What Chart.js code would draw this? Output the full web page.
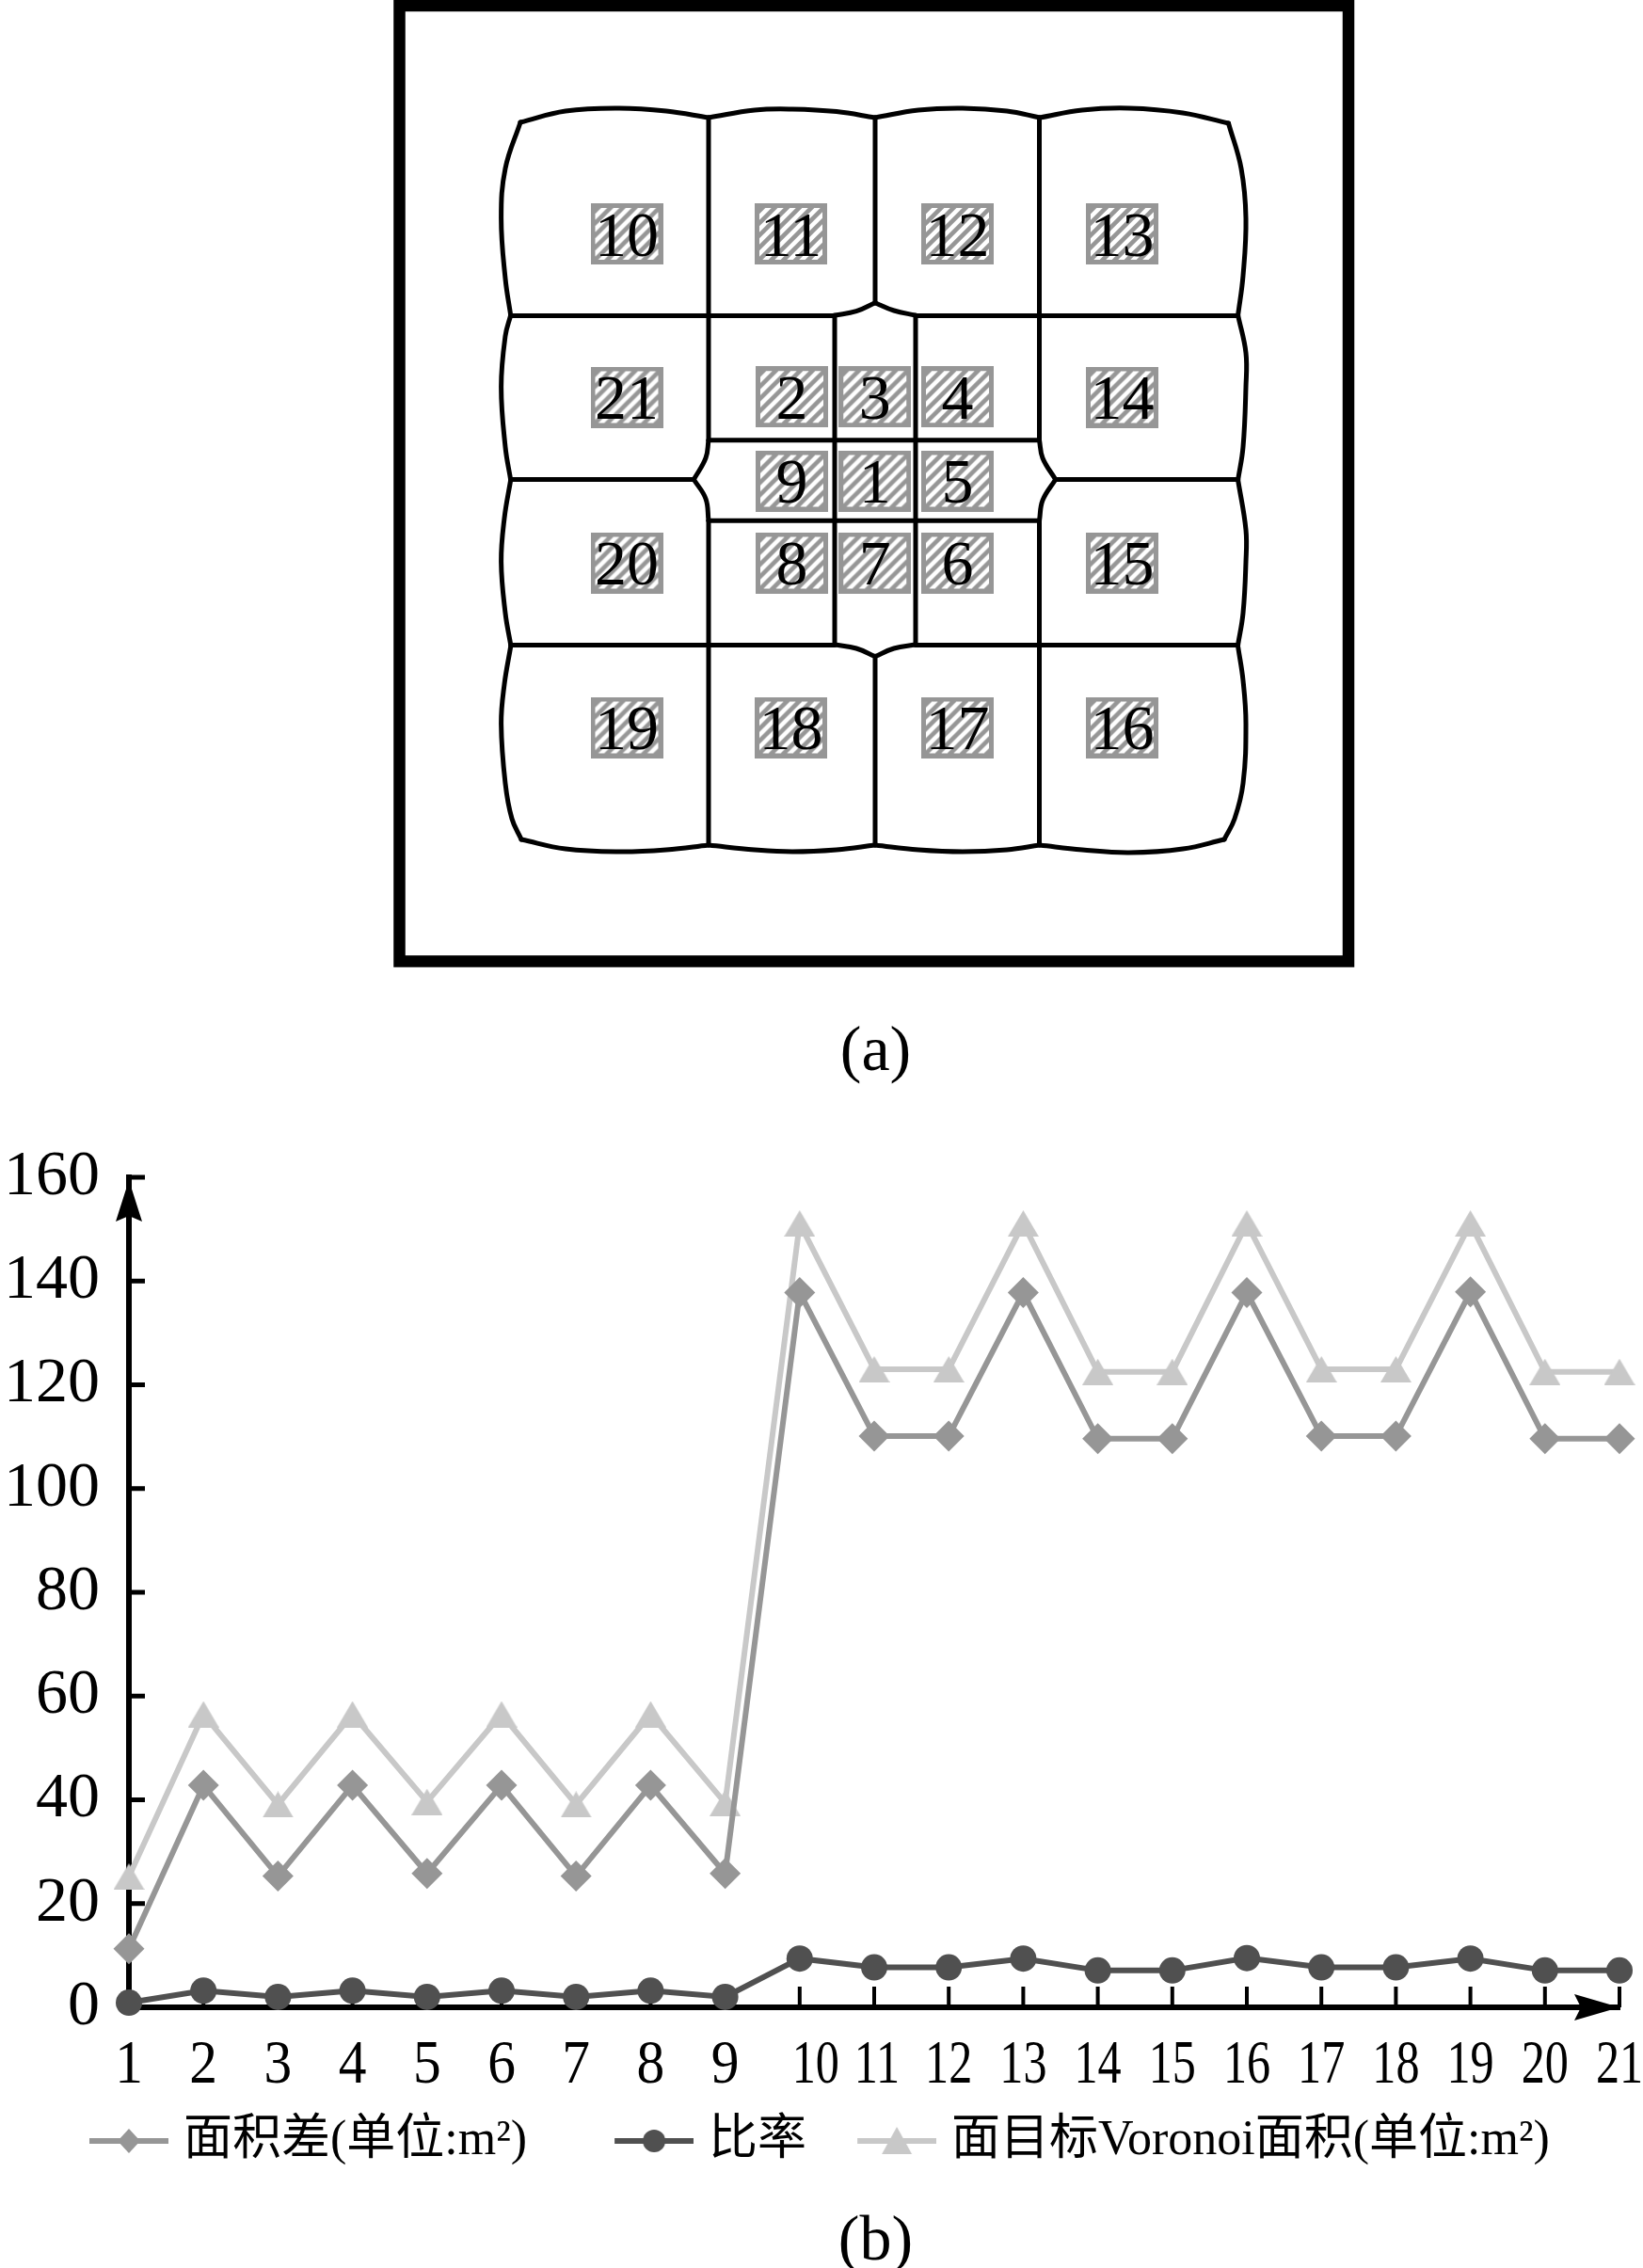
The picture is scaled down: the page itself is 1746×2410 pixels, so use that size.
<!DOCTYPE html>
<html>
<head>
<meta charset="utf-8">
<script src="https://cdn.jsdelivr.net/npm/chart.js@4"></script>
<style>
  html, body { margin: 0; background: #fff; }
  body { position: relative; width: 1746px; height: 2410px; overflow: hidden; }
  canvas { position: absolute; left: 0; }
  #layoutChart { top: 0; }
  #areaChart { top: 1200px; }
  .caption {
    position: absolute; left: 0; width: 1861px; text-align: center;
    font: 68px "Liberation Serif", serif; line-height: 80px; color: #000;
  }
</style>
</head>
<body>
<canvas id="layoutChart" width="1746" height="1060"></canvas>
<div class="caption" style="top:1074px">(a)</div>
<canvas id="areaChart" width="1746" height="1140"></canvas>
<div class="caption" style="top:2338px">(b)</div>
<script>
// Panel (b) values
const categories = ['1','2','3','4','5','6','7','8','9','10','11','12','13','14','15','16','17','18','19','20','21'];
const yTicks = [0, 20, 40, 60, 80, 100, 120, 140, 160];
const areaDiff = [11.3,42.8,25.3,42.8,25.8,42.8,25.3,42.8,25.8,137.8,110.1,110.1,137.8,109.6,109.6,137.8,110.1,110.1,137.9,109.6,109.6];
const ratio = [0.9,3.2,2,3.2,2,3.2,2,3.2,2,9.4,7.7,7.7,9.4,7.1,7.1,9.5,7.7,7.7,9.4,7.1,7.1];
const voronoiArea = [25.2,56.5,39.1,56.5,39.6,56.5,39.1,56.5,39.4,151.1,123,123,151.1,122.5,122.5,151.1,123,123,151.1,122.5,122.5];
const seriesNames = ['面积差(单位:m²)\u00a0\u00a0\u00a0', '比率', '面目标Voronoi面积(单位:m²)'];

// Panel (a) values, in the map's own coordinates
const cellIds = ['10','11','12','13','21','2','3','4','14','9','1','5','20','8','7','6','15','19','18','17','16'];
const cellX = [666,840.5,1017.5,1192.5,666,841.5,929.7,1017.5,1192.5,841.5,929.7,1017.5,666,841.5,929.7,1017.5,1192.5,666,840.5,1017.5,1192.5];
const cellY = [248.5,248.5,248.5,248.5,422,421.7,421.7,421.7,422,511,511,511,598,598,598,598,598,773,773,773,773];
const frame = [[424.5,6],[1433,6],[1433,1021.5],[424.5,1021.5],[424.5,6]];
const straightEdges = [
  [[753,125],[753,467.7]], [[753,553.3],[753,897.7]],
  [[1104.5,125],[1104.5,467.7]], [[1104.5,553.3],[1104.5,897.7]],
  [[930,125],[930,322]], [[930,697.5],[930,897.7]],
  [[887,335.5],[887,685]], [[973,335.5],[973,685]],
  [[542.7,335.5],[887,335.5]], [[973,335.5],[1315.6,335.5]],
  [[753,467.7],[1104.5,467.7]], [[753,553.3],[1104.5,553.3]],
  [[542.7,509.5],[737.3,509.5]], [[1121.7,509.5],[1315.6,509.5]],
  [[542.7,685.5],[887,685.5]], [[973,685.5],[1315.6,685.5]]
];
const curvedEdges = [
  // top
  [[553,130],[601,118],[658,115],[708,118],[753,125]],
  [[753,125],[802,117],[842,116],[889,118.6],[930,125]],
  [[930,125],[976,117],[1023,115],[1070,118],[1105,125]],
  [[1105,125],[1150,117],[1200,115],[1257,120],[1305.5,131]],
  // bottom
  [[554,892],[601,902],[658,905],[708,903],[753,898]],
  [[753,898],[802,903],[842,905],[889,903],[930,898]],
  [[930,898],[976,903],[1023,905],[1070,903],[1105,898]],
  [[1105,898],[1150,903],[1200,906],[1257,902],[1301,892]],
  // left
  [[553,130],[537,179],[532.6,232],[537,296],[542.7,335]],
  [[542.7,335],[537,357],[532.6,411],[537,475],[542.7,510]],
  [[542.7,510],[536,550.5],[532.6,597],[537,651.5],[542.7,685]],
  [[542.7,687],[536,727],[532.6,769],[537,832.5],[544,870],[554,892]],
  // right
  [[1305.5,131],[1319,179],[1324,232],[1321,293],[1315.6,335]],
  [[1315.6,335],[1324,375],[1324,411],[1321,475],[1315.6,510]],
  [[1315.6,510],[1324,563],[1324,597],[1321,651.5],[1315.6,685]],
  [[1315.6,687],[1321,723],[1324,769],[1321,832.5],[1312,870],[1301,892]],
  // centre notches
  [[887,335],[910,330.7],[930,321.7]], [[930,321.7],[950,330],[973,335]],
  [[887,685],[910,689],[930,697.5]], [[930,697.5],[950,689],[973,685]],
  [[753,467.7],[750,486.7],[737.3,509.5]], [[737.3,509.5],[750,530],[753,553.3]],
  [[1104.5,467.7],[1108,486.7],[1121.7,509.5]], [[1121.7,509.5],[1108,531.7],[1104.5,553.3]]
];

const SERIF = '"Liberation Serif", "Noto Sans CJK SC", serif';
const toPoints = list => list.map(p => ({ x: p[0], y: p[1] }));

function edgeDataset(list, tension, width) {
  return {
    type: 'scatter', data: toPoints(list), showLine: true, tension: tension,
    borderColor: '#000', borderWidth: width, pointRadius: 0, clip: false,
    borderCapStyle: 'round', borderJoinStyle: 'round'
  };
}

// hatched label tile used as the point style of the cell markers
function makeTile() {
  const c = document.createElement('canvas');
  c.width = 77; c.height = 65;
  const g = c.getContext('2d');
  g.fillStyle = '#fff';
  g.fillRect(0, 0, 77, 65);
  g.strokeStyle = '#969696';
  g.lineWidth = 4.6;
  for (let i = -65; i < 77; i += 13) {
    g.beginPath(); g.moveTo(i, 65); g.lineTo(i + 65, 0); g.stroke();
  }
  g.lineWidth = 5;
  g.strokeRect(2.5, 2.5, 72, 60);
  return c;
}

const cellLabels = {
  id: 'cellLabels',
  afterDatasetsDraw(chart) {
    const { ctx, scales } = chart;
    ctx.save();
    ctx.fillStyle = '#000';
    ctx.font = '68px ' + SERIF;
    ctx.textAlign = 'center';
    ctx.textBaseline = 'alphabetic';
    cellIds.forEach((id, i) => {
      ctx.fillText(id, scales.x.getPixelForValue(cellX[i]), scales.y.getPixelForValue(cellY[i]) + 23);
    });
    ctx.restore();
  }
};

new Chart(document.getElementById('layoutChart'), {
  type: 'scatter',
  data: {
    datasets: [
      { data: cellX.map((x, i) => ({ x: x, y: cellY[i] })), pointStyle: makeTile(), pointRadius: 30, showLine: false },
      Object.assign(edgeDataset(frame, 0, 12.5), { borderCapStyle: 'square', borderJoinStyle: 'miter' }),
      ...straightEdges.map(e => edgeDataset(e, 0, 5)),
      ...curvedEdges.map(e => edgeDataset(e, 0.4, 5))
    ]
  },
  options: {
    responsive: false,
    animation: false,
    layout: { padding: 0, autoPadding: false },
    plugins: { legend: { display: false }, tooltip: { enabled: false } },
    scales: {
      x: { display: false, min: 0, max: 1746 },
      y: { display: false, min: 0, max: 1060, reverse: true }
    }
  },
  plugins: [cellLabels]
});

// Triangle centred on its box, the built-in one sits high on the point
function makeTriangle(w, h, color) {
  const c = document.createElement('canvas');
  c.width = w; c.height = h;
  const g = c.getContext('2d');
  g.fillStyle = color;
  g.beginPath(); g.moveTo(w / 2, 0); g.lineTo(w, h); g.lineTo(0, h); g.closePath(); g.fill();
  return c;
}

// Legend swatch: line with the marker on top
function makeSwatch(color, marker) {
  const c = document.createElement('canvas');
  c.width = 94; c.height = 40;
  const g = c.getContext('2d');
  g.fillStyle = color;
  g.fillRect(10, 17, 84, 6);
  g.beginPath();
  if (marker === 'diamond') {
    g.moveTo(52, 7); g.lineTo(64, 20); g.lineTo(52, 33); g.lineTo(40, 20);
  } else if (marker === 'circle') {
    g.arc(52, 20, 12, 0, Math.PI * 2);
  } else {
    g.moveTo(52, 5); g.lineTo(68, 34); g.lineTo(36, 34);
  }
  g.closePath();
  g.fill();
  return c;
}

const DIAMOND = '#969696', CIRCLE = '#505050', TRIANGLE = '#c8c8c8';
const swatches = [makeSwatch(DIAMOND, 'diamond'), makeSwatch(CIRCLE, 'circle'), makeSwatch(TRIANGLE, 'triangle')];

const axisMarks = {
  id: 'axisMarks',
  afterLayout(chart) {
    // legend starts right of where the layout box would put it
    chart.legend.left = 41;
  },
  beforeDatasetsDraw(chart) {
    const { ctx, scales: { x, y } } = chart;
    ctx.save();
    ctx.fillStyle = '#000';
    y.ticks.forEach(t => {
      const py = y.getPixelForValue(t.value);
      ctx.fillRect(x.left - 3, py - 2.5, 20, 5);
    });
    categories.forEach((c, i) => {
      ctx.fillRect(x.getPixelForValue(i) - 2, y.bottom - 22, 4, 22);
    });
    // arrow heads
    const ax = x.left, ay = y.top + 3;
    ctx.beginPath();
    ctx.moveTo(ax, ay); ctx.lineTo(ax + 14, ay + 44); ctx.lineTo(ax, ay + 38); ctx.lineTo(ax - 14, ay + 44);
    ctx.closePath(); ctx.fill();
    const bx = x.right, by = y.bottom;
    ctx.beginPath();
    ctx.moveTo(bx, by); ctx.lineTo(bx - 48, by - 14); ctx.lineTo(bx - 41, by); ctx.lineTo(bx - 48, by + 14);
    ctx.closePath(); ctx.fill();
    ctx.restore();
  },
  afterDraw(chart) {
    // x labels are narrower than the font, so they get squeezed here
    const { ctx, scales: { x, y } } = chart;
    const nudge = { '10': 17, '11': 3 };
    ctx.save();
    ctx.fillStyle = '#000';
    ctx.font = '66px ' + SERIF;
    ctx.textAlign = 'center';
    ctx.textBaseline = 'alphabetic';
    categories.forEach((c, i) => {
      ctx.save();
      ctx.translate(x.getPixelForValue(i) + (nudge[c] || 0), y.bottom + 80);
      ctx.scale(c.length > 1 ? 0.76 : 0.9, 1);
      ctx.fillText(c, 0, 0);
      ctx.restore();
    });
    ctx.restore();
  }
};

new Chart(document.getElementById('areaChart'), {
  type: 'line',
  data: {
    labels: categories,
    datasets: [
      { label: seriesNames[0], data: areaDiff, borderColor: DIAMOND, backgroundColor: DIAMOND, borderWidth: 6, tension: 0,
        pointStyle: 'rectRot', pointRadius: 16.5, pointBorderWidth: 0, clip: false },
      { label: seriesNames[1], data: ratio, borderColor: CIRCLE, backgroundColor: CIRCLE, borderWidth: 6, tension: 0,
        pointStyle: 'circle', pointRadius: 14, pointBorderWidth: 0, clip: false },
      { label: seriesNames[2], data: voronoiArea, borderColor: TRIANGLE, backgroundColor: TRIANGLE, borderWidth: 6, tension: 0,
        pointStyle: makeTriangle(33, 28, TRIANGLE), pointRadius: 14, pointBorderWidth: 0, clip: false }
    ]
  },
  options: {
    responsive: false,
    animation: false,
    layout: { padding: { left: 7, right: 25, top: 51, bottom: 29 }, autoPadding: false },
    plugins: {
      tooltip: { enabled: false },
      legend: {
        position: 'bottom',
        align: 'start',
        labels: {
          usePointStyle: true,
          pointStyleWidth: 74,
          padding: 54,
          color: '#000',
          font: { family: SERIF, size: 52 },
          generateLabels: chart => chart.data.datasets.map((d, i) => ({
            text: d.label, pointStyle: swatches[i], datasetIndex: i, hidden: false,
            fontColor: '#000', lineWidth: 0, strokeStyle: 'transparent', fillStyle: 'transparent'
          }))
        }
      }
    },
    scales: {
      x: {
        type: 'category',
        offset: false,
        grid: { drawOnChartArea: false, drawTicks: false },
        border: { display: true, color: '#000', width: 6 },
        ticks: { display: false },
        afterFit: s => { s.height = 62; }
      },
      y: {
        min: 0,
        max: 160,
        afterBuildTicks: s => { s.ticks = yTicks.map(v => ({ value: v })); },
        grid: { drawOnChartArea: false, drawTicks: false },
        border: { display: true, color: '#000', width: 6 },
        ticks: { color: '#000', padding: 31, font: { family: SERIF, size: 68 } },
        afterFit: s => { s.width = 130; s.paddingTop = 0; s.paddingBottom = 0; }
      }
    }
  },
  plugins: [axisMarks]
});
</script>
</body>
</html>
